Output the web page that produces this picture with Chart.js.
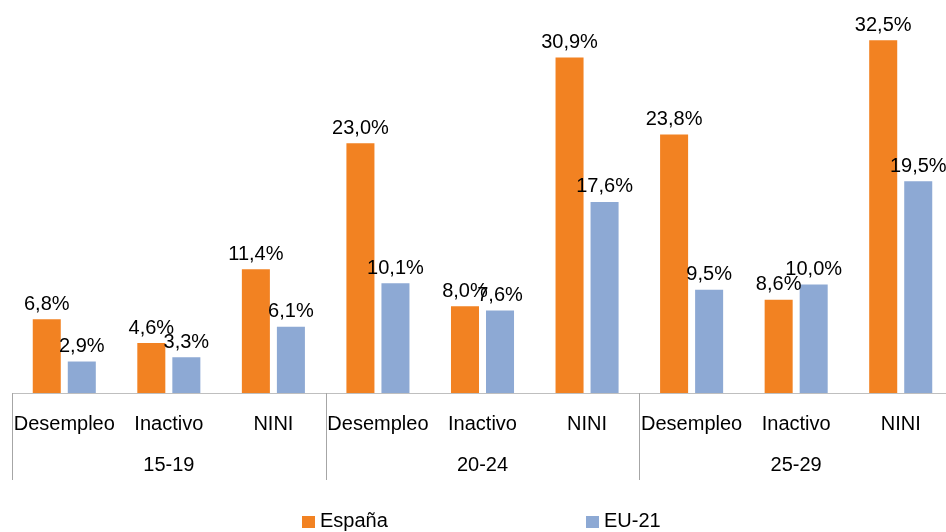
<!DOCTYPE html>
<html>
<head>
<meta charset="utf-8">
<script src="https://cdn.jsdelivr.net/npm/chart.js@4"></script>
<style>
    html, body { margin: 0; padding: 0; background: #fff; overflow: hidden; }
    #wrap { width: 954px; height: 532px; }
</style>
</head>
<body>
<div id="wrap"><canvas id="chart"></canvas></div>
<script>
const categories = ["Desempleo", "Inactivo", "NINI", "Desempleo", "Inactivo", "NINI", "Desempleo", "Inactivo", "NINI"];
const groups = ["15-19", "20-24", "25-29"];
const espana = [6.8, 4.6, 11.4, 23.0, 8.0, 30.9, 23.8, 8.6, 32.5];
const eu21 = [2.9, 3.3, 6.1, 10.1, 7.6, 17.6, 9.5, 10.0, 19.5];

const FONT = "'Liberation Sans', Arial, sans-serif";
const orange = "#F28222";
const blue = "#8DA9D4";

function fmt(v) {
    return v.toFixed(1).replace(".", ",") + "%";
}

// Value labels above the bars
const valueLabels = {
    id: "valueLabels",
    afterDatasetsDraw(chart) {
        const ctx = chart.ctx;
        ctx.save();
        ctx.font = "20px " + FONT;
        ctx.fillStyle = "#000";
        ctx.textAlign = "center";
        ctx.textBaseline = "bottom";
        chart.data.datasets.forEach((ds, i) => {
            chart.getDatasetMeta(i).data.forEach((bar, j) => {
                ctx.fillText(fmt(ds.data[j]), bar.x, bar.y - 5);
            });
        });
        ctx.restore();
    }
};

// Group labels, separators and legend
const groupAxis = {
    id: "groupAxis",
    afterDraw(chart) {
        const ctx = chart.ctx;
        const x = chart.scales.x;
        const area = chart.chartArea;
        const per = categories.length / groups.length;
        ctx.save();
        ctx.strokeStyle = "#a6a6a6";
        ctx.lineWidth = 1;
        for (let g = 0; g <= groups.length; g++) {
            let px;
            if (g === 0) px = area.left;
            else if (g === groups.length) px = area.right;
            else px = (x.getPixelForValue(g * per - 1) + x.getPixelForValue(g * per)) / 2;
            px = Math.round(px) + 0.5;
            ctx.beginPath();
            ctx.moveTo(px, area.bottom);
            ctx.lineTo(px, area.bottom + 87);
            ctx.stroke();
        }
        ctx.font = "20px " + FONT;
        ctx.fillStyle = "#000";
        ctx.textAlign = "center";
        ctx.textBaseline = "middle";
        groups.forEach((name, g) => {
            const cx = x.getPixelForValue(g * per + (per - 1) / 2);
            ctx.fillText(name, cx, 465);
        });

        // legend
        const items = [["España", orange, 302], ["EU-21", blue, 586]];
        ctx.textAlign = "left";
        items.forEach(([name, col, lx]) => {
            ctx.fillStyle = col;
            ctx.fillRect(lx, 516, 13, 12);
            ctx.fillStyle = "#000";
            ctx.fillText(name, lx + 18, 521);
        });
        ctx.restore();
    }
};

new Chart(document.getElementById("chart"), {
    type: "bar",
    data: {
        labels: categories,
        datasets: [
            { label: "España", data: espana, backgroundColor: orange },
            { label: "EU-21", data: eu21, backgroundColor: blue }
        ]
    },
    options: {
        responsive: true,
        maintainAspectRatio: false,
        animation: false,
        layout: { padding: { left: 12, right: 1, top: 13, bottom: 52 } },
        datasets: {
            bar: { categoryPercentage: 0.67, barPercentage: 0.8 }
        },
        plugins: {
            legend: { display: false },
            tooltip: { enabled: false }
        },
        scales: {
            y: { display: false, min: 0, max: 35 },
            x: {
                grid: { display: false, drawTicks: false },
                border: { display: true, color: "#bfbfbf", width: 1 },
                ticks: {
                    color: "#000",
                    font: { family: FONT, size: 20 },
                    padding: 19,
                    maxRotation: 0,
                    autoSkip: false
                },
                afterFit(scale) {
                    scale.height = 87;
                    scale.paddingLeft = 0;
                    scale.paddingRight = 0;
                }
            }
        }
    },
    plugins: [valueLabels, groupAxis]
});
</script>
</body>
</html>
